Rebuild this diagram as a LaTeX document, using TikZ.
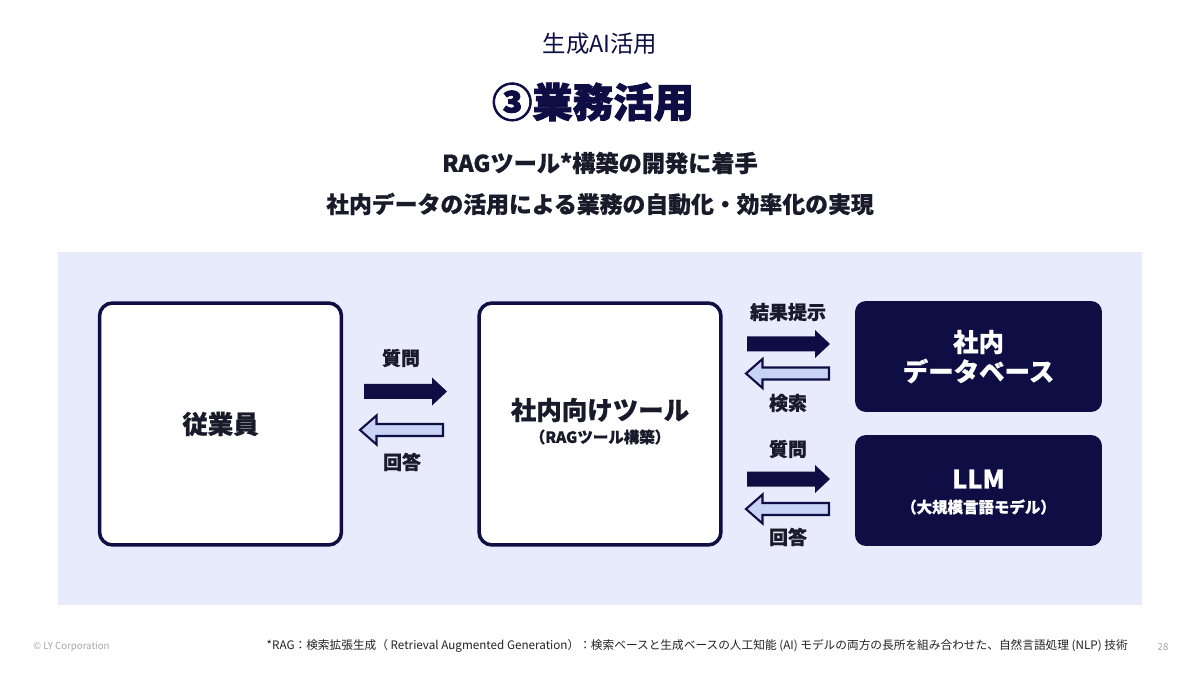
\documentclass[tikz,border=0pt]{standalone}
\usepackage{fontspec}
\setmainfont{Noto Sans CJK JP}
\newfontfamily\jpheavy{Noto Sans CJK JP}[FakeBold=2]
\newfontfamily\jpbold{Noto Sans CJK JP}[FakeBold=0.6]
\definecolor{navy}{HTML}{0E0E44}
\definecolor{panel}{HTML}{E7EBFB}
\definecolor{lightarrow}{HTML}{C8D3F6}
\definecolor{txt}{HTML}{1A1A2A}
\definecolor{foot}{HTML}{222222}
\tikzset{
  whitebox/.style={draw=navy, line width=2pt, fill=white, rounded corners=0.26cm, minimum width=4.84cm, minimum height=4.84cm},
  darkbox/.style={fill=navy, rounded corners=0.22cm, minimum width=4.94cm, minimum height=2.22cm},
  fwdshape/.style={fill=navy},
  bwdshape/.style={fill=lightarrow, draw=navy, line width=1.2pt, line join=miter},
  albl/.style={font=\jpbold\bfseries\fontsize{10.8}{12}\selectfont, text=txt},
  boxlbl/.style={font=\jpbold\bfseries\fontsize{14.5}{16}\selectfont, text=txt},
  darklbl/.style={font=\jpbold\bfseries\fontsize{14.5}{16}\selectfont, text=white},
}
\begin{document}
\begin{tikzpicture}[x=0.02cm,y=-0.02cm]
\useasboundingbox (0,0) rectangle (1200,675);
\fill[white] (0,0) rectangle (1200,675);
% titles
\node[font=\fontsize{13.3}{15}\selectfont, text=navy] (sub) at (600,44) {生成AI活用};
\node[font=\jpheavy\bfseries\fontsize{23}{26}\selectfont, text=navy] (title) at (593,102) {③業務活用};
\node[font=\jpbold\bfseries\fontsize{13.2}{15}\selectfont, text=txt] (l1) at (600,163) {RAGツール*構築の開発に着手};
\node[font=\jpbold\bfseries\fontsize{13}{15}\selectfont, text=txt] (l2) at (600,204) {社内データの活用による業務の自動化・効率化の実現};
% panel
\fill[panel] (58,252) rectangle (1142,605);
% boxes
\node[whitebox] (emp) at (220.5,424) {};
\node[boxlbl] (empl) at (220.5,424) {従業員};
\node[whitebox] (tool) at (600,424) {};
\node[boxlbl] (tooll) at (600,410) {社内向けツール};
\node[font=\jpbold\bfseries\fontsize{8.8}{10}\selectfont, text=txt] (tools) at (600,437) {（RAGツール構築）};
\node[darkbox] (db) at (978.5,356.5) {};
\node[darklbl] (dbl1) at (978.5,342) {社内};
\node[darklbl] (dbl2) at (978.5,371) {データベース};
\node[darkbox] (llm) at (978.5,490.5) {};
\node[darklbl] (llml) at (978.5,479) {LLM};
\node[font=\jpbold\bfseries\fontsize{8.8}{10}\selectfont, text=white] (llms) at (978.5,507) {（大規模言語モデル）};
% arrow anchors
\coordinate (a1) at (405.5,391.5);
\coordinate (b1) at (401.5,430);
\coordinate (a2) at (788.5,344);
\coordinate (b2) at (787.5,373.5);
\coordinate (a3) at (788.5,479);
\coordinate (b3) at (787.5,509);
% forward (filled) arrows
\foreach \c in {a1,a2,a3}{
  \fill[fwdshape, shift={(\c)}] (-41.5,-7.5) -- (26.5,-7.5) -- (26.5,-14) -- (41.5,0) -- (26.5,14) -- (26.5,7.5) -- (-41.5,7.5) -- cycle;
}
% backward (outlined) arrows
\foreach \c in {b1,b2,b3}{
  \draw[bwdshape, shift={(\c)}] (41.5,-6) -- (-25,-6) -- (-25,-14.5) -- (-41.5,0) -- (-25,14.5) -- (-25,6) -- (41.5,6) -- cycle;
}
% arrow labels
\node[albl] (q1) at (401,358) {質問};
\node[albl] (r1) at (402,462) {回答};
\node[albl] (k1) at (788,312) {結果提示};
\node[albl] (s1) at (788,403) {検索};
\node[albl] (q2) at (788,449) {質問};
\node[albl] (r2) at (788,537) {回答};
% footer
\node[anchor=west, font=\fontsize{5.5}{6}\selectfont, text=gray!70] (copy) at (27,647) {© LY Corporation};
\node[anchor=east, font=\fontsize{6.65}{8}\selectfont, text=foot] (fn) at (1134,646) {*RAG：検索拡張生成（ Retrieval Augmented Generation）：検索ベースと生成ベースの人工知能 (AI) モデルの両方の長所を組み合わせた、自然言語処理 (NLP) 技術};
\node[font=\fontsize{5.5}{6}\selectfont, text=gray!70] (pg) at (1163,647) {28};
\end{tikzpicture}
\end{document}
